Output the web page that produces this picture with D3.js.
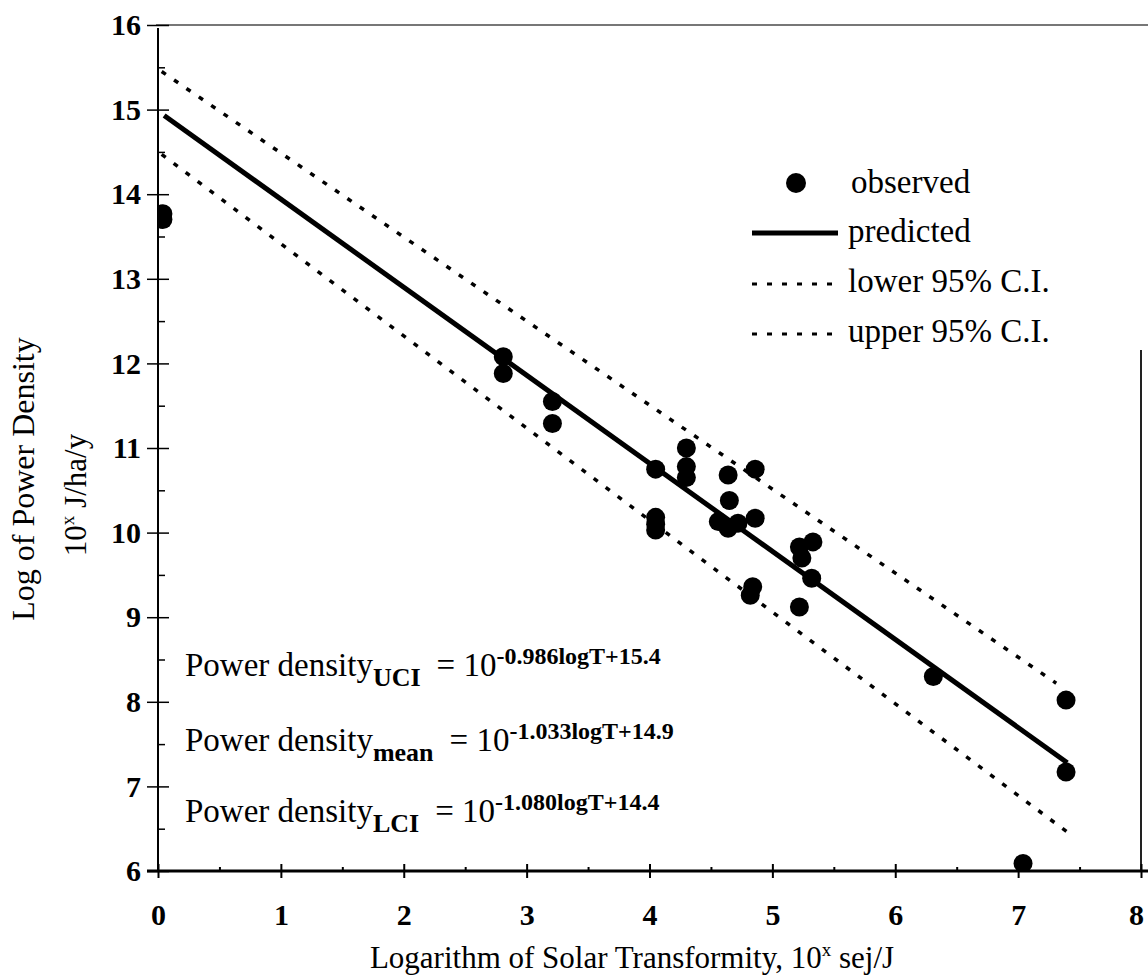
<!DOCTYPE html>
<html>
<head>
<meta charset="utf-8">
<script src="https://cdn.jsdelivr.net/npm/d3@7"></script>
<style>
  body { margin: 0; background: #fff; }
  svg { display: block; font-family: "Liberation Serif", "Times New Roman", serif; }
</style>
</head>
<body>
<div id="chart"></div>
<script>
// observed points (log T, log power density)
const obsX = [0.04, 0.04, 2.81, 2.81, 3.21, 3.21, 4.05, 4.05, 4.05, 4.05, 4.30, 4.30, 4.30,
  4.56, 4.64, 4.65, 4.64, 4.72, 4.86, 4.86, 4.84, 4.82, 5.22, 5.33, 5.24, 5.32, 5.22,
  6.31, 7.39, 7.39, 7.04];
const obsY = [13.70, 13.77, 12.08, 11.88, 11.55, 11.29, 10.75, 10.18, 10.10, 10.03, 11.00, 10.78, 10.65,
  10.13, 10.68, 10.38, 10.05, 10.11, 10.75, 10.17, 9.36, 9.26, 9.83, 9.89, 9.70, 9.46, 9.12,
  8.30, 8.02, 7.17, 6.09];
// predicted line and confidence limits
const predX = [0.05, 7.40];
const predY = [14.93, 7.28];
const uciX = [0.03, 4.30, 7.31];
const uciY = [15.45, 11.21, 8.22];
const lciX = [0.03, 4.41, 7.40];
const lciY = [14.47, 9.70, 6.46];
// tick labels
const xTicks = [0, 1, 2, 3, 4, 5, 6, 7, 8];
const yTicks = [6, 7, 8, 9, 10, 11, 12, 13, 14, 15, 16];
const legendLabels = ['observed', 'predicted', 'lower 95% C.I.', 'upper 95% C.I.'];
const eqNames = ['UCI', 'mean', 'LCI'];
const eqExps = ['-0.986logT+15.4', '-1.033logT+14.9', '-1.080logT+14.4'];

const W = 1148, H = 977;
const svg = d3.select('#chart').append('svg').attr('width', W).attr('height', H);

const x = d3.scaleLinear().domain([0, 8]).range([158, 1141]);
const y = d3.scaleLinear().domain([6, 16]).range([871, 25]);

// frame bits
svg.append('line').attr('x1', 156).attr('x2', W).attr('y1', y(16)).attr('y2', y(16))
  .attr('stroke', '#777').attr('stroke-width', 2);
svg.append('line').attr('x1', x(8)).attr('x2', x(8)).attr('y1', 350).attr('y2', y(6))
  .attr('stroke', '#222').attr('stroke-width', 2);

// x axis
const xAxis = svg.append('g').attr('transform', `translate(0,${y(6)})`)
  .call(d3.axisBottom(x).tickValues(xTicks).tickSize(7).tickPadding(26).tickFormat(d3.format('d')));
xAxis.select('.domain').remove();
xAxis.selectAll('.tick line').attr('y1', -7).attr('y2', 7).attr('stroke-width', 2);
xAxis.selectAll('.tick text').attr('font-size', 30).attr('font-weight', 'bold')
  .attr('font-family', '"Liberation Serif", serif').attr('fill', '#000')
  .attr('dx', d => d === 8 ? -5 : 0);
const xMinor = svg.append('g').attr('transform', `translate(0,${y(6)})`)
  .call(d3.axisBottom(x).tickValues(d3.range(0.5, 8, 1)).tickSize(-4).tickFormat(''));
xMinor.select('.domain').remove();
xMinor.selectAll('.tick line').attr('stroke-width', 2);
svg.append('line').attr('x1', 147).attr('x2', W).attr('y1', y(6)).attr('y2', y(6))
  .attr('stroke', '#000').attr('stroke-width', 3);

// y axis
const yAxis = svg.append('g').attr('transform', `translate(${x(0)},0)`)
  .call(d3.axisLeft(y).tickValues(yTicks).tickSize(11).tickPadding(6).tickFormat(d3.format('d')));
yAxis.select('.domain').remove();
yAxis.selectAll('.tick line').attr('x1', -11).attr('x2', 11).attr('stroke-width', 1.5);
yAxis.selectAll('.tick text').attr('font-size', 30).attr('font-weight', 'bold')
  .attr('font-family', '"Liberation Serif", serif').attr('fill', '#000');
const yMinor = svg.append('g').attr('transform', `translate(${x(0)},0)`)
  .call(d3.axisLeft(y).tickValues(d3.range(6.5, 16, 1)).tickSize(-7).tickFormat(''));
yMinor.select('.domain').remove();
yMinor.selectAll('.tick line').attr('stroke-width', 1.5);
svg.append('line').attr('x1', x(0)).attr('x2', x(0)).attr('y1', 28).attr('y2', y(6))
  .attr('stroke', '#000').attr('stroke-width', 2);

// axis titles
svg.append('text').attr('x', 632).attr('y', 968).attr('text-anchor', 'middle')
  .attr('font-size', 31)
  .call(t => {
    t.append('tspan').text('Logarithm of Solar Transformity, 10');
    t.append('tspan').attr('dy', -12).attr('font-size', 19).text('x');
    t.append('tspan').attr('dy', 12).text(' sej/J');
  });
svg.append('text').attr('transform', 'translate(34,479) rotate(-90)')
  .attr('text-anchor', 'middle').attr('font-size', 32).text('Log of Power Density');
svg.append('text').attr('transform', 'translate(86,495) rotate(-90)')
  .attr('text-anchor', 'middle').attr('font-size', 31)
  .call(t => {
    t.append('tspan').text('10');
    t.append('tspan').attr('dy', -12).attr('font-size', 19).text('x');
    t.append('tspan').attr('dy', 12).text(' J/ha/y');
  });

// clip for plot area
svg.append('clipPath').attr('id', 'plot').append('rect')
  .attr('x', x(0)).attr('y', y(16)).attr('width', x(8) - x(0)).attr('height', y(6) - y(16) - 1);

const line = d3.line().x(d => x(d[0])).y(d => y(d[1]));
const dotted = '5,10';

const plot = svg.append('g').attr('clip-path', 'url(#plot)');
plot.append('path').datum(d3.zip(uciX, uciY)).attr('d', line)
  .attr('fill', 'none').attr('stroke', '#000').attr('stroke-width', 3.5).attr('stroke-dasharray', dotted);
plot.append('path').datum(d3.zip(lciX, lciY)).attr('d', line)
  .attr('fill', 'none').attr('stroke', '#000').attr('stroke-width', 3.5).attr('stroke-dasharray', dotted);
plot.append('path').datum(d3.zip(predX, predY)).attr('d', line)
  .attr('fill', 'none').attr('stroke', '#000').attr('stroke-width', 5);
plot.selectAll('circle').data(d3.zip(obsX, obsY)).join('circle')
  .attr('cx', d => x(d[0])).attr('cy', d => y(d[1])).attr('r', 9.5).attr('fill', '#000');

// legend
const lg = svg.append('g').attr('font-size', 33);
const rowY = [193, 242, 292, 342];
lg.append('circle').attr('cx', 796).attr('cy', rowY[0] - 10).attr('r', 10).attr('fill', '#000');
lg.append('line').attr('x1', 752).attr('x2', 838).attr('y1', rowY[1] - 9).attr('y2', rowY[1] - 9)
  .attr('stroke', '#000').attr('stroke-width', 5);
[2, 3].forEach(i => {
  lg.append('line').attr('x1', 752).attr('x2', 842).attr('y1', rowY[i] - 8).attr('y2', rowY[i] - 8)
    .attr('stroke', '#000').attr('stroke-width', 3).attr('stroke-dasharray', '5,10');
});
legendLabels.forEach((s, i) => {
  lg.append('text').attr('x', i === 0 ? 851 : 848).attr('y', rowY[i]).text(s);
});

// equations
const eqY = [676, 751, 822];
eqNames.forEach((name, i) => {
  const t = svg.append('text').attr('x', 185).attr('y', eqY[i]).attr('font-size', 33);
  t.append('tspan').text('Power density');
  t.append('tspan').attr('dy', 10).attr('font-size', 26).attr('font-weight', 'bold').text(name);
  t.append('tspan').attr('dy', -10).attr('dx', 16).text('= 10');
  t.append('tspan').attr('dy', -12).attr('font-size', 24).attr('font-weight', 'bold').text(eqExps[i]);
});
</script>
</body>
</html>
